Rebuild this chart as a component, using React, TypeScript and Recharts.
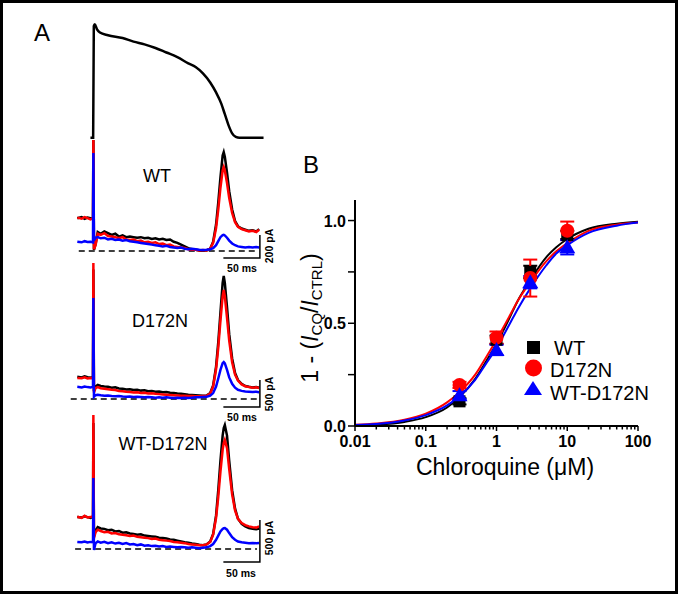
import React from "react";
import {
  ComposedChart,
  ErrorBar,
  Legend,
  Line,
  LineChart,
  ReferenceLine,
  Scatter,
  XAxis,
  YAxis,
} from "recharts";

const FONT = "Arial, 'Liberation Sans', Helvetica, sans-serif";

// ---------- Panel A: action potential (mV) ----------
const apTime = [-4, -0.3, 0.6, 2, 5, 9, 20, 40, 55, 70, 85, 100, 115, 130, 140, 150, 160, 168, 175, 180, 185, 190, 195, 200, 233];
const apVoltage = [-85, -85, 38, 40, 34.5, 31, 28, 25, 21, 18, 14, 9, 4, -3, -7, -14, -24, -35, -47, -59, -71, -80, -84, -85, -85];

// ---------- Panel A: current traces (pA), stimulus at t = 0 ms ----------
const traceTime = [
  -22, -16, -12, -8, -4, -0.5, 0, 0.8, 3, 6,
  10, 15, 20, 25, 30, 35, 40, 45, 50, 55, 60, 65, 70, 75, 80, 85, 90, 95, 100, 105,
  110, 115, 120, 125, 130, 135, 140, 145, 150, 155,
  160, 164, 168, 171, 174, 177, 178.5, 180, 183, 186,
  190, 194, 198, 203, 208, 213, 218, 223, 227,
];

const wtBlack = [
  285, 295, 280, 290, 285, 280, 965, 10, 60, 165,
  150, 170, 155, 140, 150, 125, 135, 120, 125, 120, 115, 120, 110, 115, 105, 110, 100, 105, 95, 100,
  80, 70, 55, 40, 25, 15, 10, 5, 5, 5,
  20, 80, 230, 420, 640, 830, 860, 820, 680, 520,
  360, 260, 215, 195, 185, 175, 180, 170, 190,
];
const wtRed = [
  290, 280, 295, 285, 275, 285, 965, 15, 50, 150,
  140, 155, 130, 125, 120, 110, 120, 100, 95, 100, 85, 90, 75, 80, 70, 75, 60, 65, 50, 55,
  40, 35, 30, 25, 15, 10, 10, 5, 8, 5,
  20, 70, 200, 360, 550, 700, 730, 700, 590, 460,
  330, 250, 210, 190, 180, 170, 175, 165, 185,
];
const wtBlue = [
  80, 75, 85, 78, 80, 75, 852, 95, 115, 120,
  110, 115, 100, 105, 95, 100, 90, 95, 85, 80, 75, 70, 65, 60, 55, 50, 45, 40, 45, 35,
  30, 25, 30, 20, 15, 20, 15, 10, 8, 10,
  15, 25, 50, 85, 120, 138, 140, 135, 115, 90,
  65, 50, 40, 35, 30, 35, 30, 35, 30,
];

const d172nBlack = [
  410, 400, 420, 405, 395, 410, 2400, 150, 230, 260,
  240, 230, 225, 210, 215, 195, 190, 175, 180, 165, 170, 155, 160, 145, 150, 135, 140, 125, 130, 115,
  110, 100, 95, 90, 80, 75, 70, 65, 60, 65,
  110, 250, 600, 1050, 1600, 2150, 2278, 2150, 1700, 1200,
  750, 480, 350, 280, 240, 225, 215, 220, 210,
];
const d172nRed = [
  390, 385, 400, 380, 390, 385, 2519, 120, 200, 220,
  200, 190, 180, 170, 165, 150, 145, 135, 130, 120, 125, 110, 115, 100, 105, 95, 90, 85, 80, 75,
  70, 65, 60, 60, 55, 55, 50, 50, 55, 60,
  100, 230, 550, 950, 1450, 1900, 2018, 1900, 1500, 1080,
  680, 450, 340, 270, 235, 220, 210, 215, 205,
];
const d172nBlue = [
  225, 215, 230, 220, 215, 225, 1870, 40, 70, 80,
  70, 60, 65, 55, 50, 55, 45, 40, 45, 35, 40, 35, 30, 35, 30, 25, 30, 25, 30, 25,
  20, 25, 20, 25, 20, 25, 30, 30, 35, 40,
  60, 110, 230, 380, 540, 665, 685, 660, 540, 400,
  280, 210, 170, 150, 140, 135, 130, 135, 125,
];

const hetBlack = [
  380, 375, 390, 380, 370, 385, 1500, 150, 220, 260,
  245, 240, 225, 230, 210, 215, 195, 200, 185, 180, 170, 175, 160, 155, 150, 145, 135, 130, 125, 115,
  110, 100, 90, 80, 75, 65, 60, 50, 45, 55,
  90, 180, 400, 700, 1050, 1350, 1440, 1476, 1350, 1050,
  700, 480, 360, 300, 270, 250, 240, 235, 245,
];
const hetRed = [
  385, 370, 395, 375, 380, 390, 1595, 130, 200, 230,
  215, 200, 205, 185, 190, 175, 170, 165, 155, 160, 145, 140, 135, 130, 120, 125, 110, 105, 100, 95,
  85, 80, 75, 70, 60, 55, 50, 45, 45, 55,
  85, 170, 370, 620, 920, 1180, 1260, 1298, 1200, 950,
  650, 460, 360, 310, 285, 270, 260, 255, 270,
];
const hetBlue = [
  85, 80, 90, 78, 85, 82, 845, -12, 70, 90,
  75, 85, 70, 80, 65, 75, 60, 70, 55, 60, 45, 55, 40, 45, 35, 40, 30, 35, 25, 30,
  25, 20, 25, 20, 15, 20, 15, 10, 15, 20,
  35, 60, 110, 160, 210, 240, 248, 250, 230, 190,
  140, 110, 90, 80, 75, 70, 72, 68, 72,
];

// ---------- Panel B: dose-response ----------
const doseUM = [0.3, 1, 3, 10];
const wtMean = [0.12, 0.42, 0.75, 0.93];
const wtSem = [0.015, 0.02, 0.03, 0.02];
const d172nMean = [0.2, 0.43, 0.72, 0.95];
const d172nSem = [0.015, 0.03, 0.09, 0.045];
const hetMean = [0.15, 0.37, 0.7, 0.87];
const hetSem = [0.02, 0.025, 0.03, 0.035];

const fitDose = [0.01, 0.02, 0.05, 0.1, 0.2, 0.3, 0.5, 0.7, 1, 1.5, 2, 3, 5, 7, 10, 20, 50, 100];
const wtFit = [0.003, 0.007, 0.02, 0.043, 0.09, 0.14, 0.23, 0.31, 0.4, 0.52, 0.61, 0.71, 0.82, 0.87, 0.91, 0.96, 0.985, 0.994];
const d172nFit = [0.006, 0.012, 0.03, 0.06, 0.115, 0.165, 0.25, 0.33, 0.42, 0.53, 0.61, 0.7, 0.8, 0.85, 0.89, 0.95, 0.98, 0.99];
const hetFit = [0.005, 0.01, 0.027, 0.053, 0.1, 0.145, 0.225, 0.3, 0.38, 0.49, 0.57, 0.67, 0.78, 0.84, 0.88, 0.94, 0.975, 0.99];

const xMajorTicks = [0.01, 0.1, 1, 10, 100];
const xMinorTicks = [
  0.02, 0.03, 0.04, 0.05, 0.06, 0.07, 0.08, 0.09,
  0.2, 0.3, 0.4, 0.5, 0.6, 0.7, 0.8, 0.9,
  2, 3, 4, 5, 6, 7, 8, 9,
  20, 30, 40, 50, 60, 70, 80, 90,
];
const yTicks = [0, 0.25, 0.5, 0.75, 1];
const yLabelled = [0, 0.5, 1];

const TIME_DOMAIN: [number, number] = [-32, 235];
const BLACK = "#000000";
const RED = "#ff0000";
const BLUE = "#0000ff";

function TracePanel(props: {
  top: number;
  height: number;
  domain: [number, number];
  black: number[];
  red: number[];
  blue: number[];
  barBase: number;
  barAmp: number;
  zeroFrom: number;
}) {
  const { top, height, domain, black, red, blue, barBase, barAmp, zeroFrom } = props;
  const data = traceTime.map((t, i) => ({ t, black: black[i], red: red[i], blue: blue[i] }));
  const bar = [
    { t: 178, v: barBase },
    { t: 228, v: barBase },
    { t: 228, v: barBase + barAmp },
  ];
  return (
    <div style={{ position: "absolute", left: 70, top }}>
      <LineChart width={195} height={height} data={data} margin={{ top: 0, right: 0, bottom: 0, left: 0 }}>
        <XAxis type="number" dataKey="t" domain={TIME_DOMAIN} hide allowDataOverflow />
        <YAxis type="number" domain={domain} hide allowDataOverflow />
        <ReferenceLine
          segment={[{ x: zeroFrom, y: 0 }, { x: 224, y: 0 }]}
          stroke={BLACK}
          strokeWidth={1.5}
          strokeDasharray="6 4"
        />
        <Line type="linear" dataKey="black" stroke={BLACK} strokeWidth={2.5} dot={false} isAnimationActive={false} />
        <Line type="linear" dataKey="red" stroke={RED} strokeWidth={2.5} dot={false} isAnimationActive={false} />
        <Line type="linear" dataKey="blue" stroke={BLUE} strokeWidth={2.5} dot={false} isAnimationActive={false} />
        <Line data={bar} type="linear" dataKey="v" stroke={BLACK} strokeWidth={1.5} dot={false} isAnimationActive={false} />
      </LineChart>
    </div>
  );
}

function LogTick(p: any) {
  const { x, y, payload } = p;
  const v = payload.value as number;
  const major = xMajorTicks.includes(v);
  return (
    <g>
      <line x1={x} x2={x} y1={y} y2={y + (major ? 5 : 3.5)} stroke={BLACK} strokeWidth={1.5} />
      {major && (
        <text x={x} y={y + 21} textAnchor="middle" fontFamily={FONT} fontWeight="bold" fontSize={16} fill={BLACK}>
          {String(v)}
        </text>
      )}
    </g>
  );
}

function YTick(p: any) {
  const { x, y, payload } = p;
  const v = payload.value as number;
  return (
    <g>
      <line x1={x - 7} x2={x} y1={y} y2={y} stroke={BLACK} strokeWidth={1.5} />
      {yLabelled.includes(v) && (
        <text x={x - 9} y={y + 6} textAnchor="end" fontFamily={FONT} fontWeight="bold" fontSize={16} fill={BLACK}>
          {v.toFixed(1)}
        </text>
      )}
    </g>
  );
}

const square = (p: any) => <rect x={p.cx - 6} y={p.cy - 6} width={12} height={12} fill={BLACK} />;
const circle = (p: any) => <circle cx={p.cx} cy={p.cy} r={7} fill={RED} />;
const triangle = (p: any) => (
  <polygon points={`${p.cx},${p.cy - 8} ${p.cx - 8},${p.cy + 6} ${p.cx + 8},${p.cy + 6}`} fill={BLUE} />
);

function DoseLegend() {
  return (
    <svg width={140} height={70} style={{ overflow: "visible" }}>
      <rect x={4} y={4} width={13} height={13} fill={BLACK} />
      <circle cx={10.5} cy={31} r={8.5} fill={RED} />
      <polygon points="10,44 1,58 19,58" fill={BLUE} />
      <g fontFamily={FONT} fontSize={20} fill={BLACK}>
        <text x={31} y={18}>WT</text>
        <text x={27} y={40}>D172N</text>
        <text x={27} y={63}>WT-D172N</text>
      </g>
    </svg>
  );
}

export default function App() {
  const apData = apTime.map((t, i) => ({ t, v: apVoltage[i] }));
  const pts = (mean: number[], sem: number[]) => doseUM.map((x, i) => ({ x, y: mean[i], e: sem[i] }));
  const fit = (ys: number[]) => fitDose.map((x, i) => ({ x, y: ys[i] }));

  return (
    <div style={{ position: "absolute", left: 0, top: 0, width: 678, height: 594, background: "#fff", fontFamily: FONT }}>
      {/* action potential */}
      <div style={{ position: "absolute", left: 70, top: 18 }}>
        <LineChart width={195} height={128} data={apData} margin={{ top: 0, right: 0, bottom: 0, left: 0 }}>
          <XAxis type="number" dataKey="t" domain={TIME_DOMAIN} hide allowDataOverflow />
          <YAxis type="number" domain={[-94, 47]} hide allowDataOverflow />
          <Line type="monotone" dataKey="v" stroke={BLACK} strokeWidth={2.5} dot={false} isAnimationActive={false} />
        </LineChart>
      </div>

      <TracePanel top={140} height={122} domain={[-96, 965]} black={wtBlack} red={wtRed} blue={wtBlue} barBase={-61} barAmp={200} zeroFrom={-20} />
      <TracePanel top={262} height={150} domain={[-241, 2537]} black={d172nBlack} red={d172nRed} blue={d172nBlue} barBase={-148} barAmp={500} zeroFrom={-31} />
      <TracePanel top={413} height={152} domain={[-190, 1619]} black={hetBlack} red={hetRed} blue={hetBlue} barBase={-155} barAmp={500} zeroFrom={-25} />

      {/* panel B */}
      <div style={{ position: "absolute", left: 290, top: 190 }}>
        <ComposedChart width={370} height={270} margin={{ top: 10, right: 22, bottom: 4, left: 15 }}>
          <XAxis
            type="number"
            dataKey="x"
            scale="log"
            domain={[0.01, 100]}
            allowDataOverflow
            ticks={[...xMajorTicks, ...xMinorTicks]}
            interval={0}
            tickSize={0}
            tickMargin={0}
            tickLine={false}
            tick={LogTick}
            axisLine={{ stroke: BLACK, strokeWidth: 2 }}
            height={30}
          />
          <YAxis
            type="number"
            dataKey="y"
            domain={[0, 1.1]}
            allowDataOverflow
            ticks={yTicks}
            interval={0}
            tickSize={0}
            tickMargin={0}
            tickLine={false}
            tick={YTick}
            axisLine={{ stroke: BLACK, strokeWidth: 2 }}
            width={50}
          />
          <Line data={fit(wtFit)} type="monotone" dataKey="y" stroke={BLACK} strokeWidth={2} dot={false} isAnimationActive={false} />
          <Line data={fit(d172nFit)} type="monotone" dataKey="y" stroke={RED} strokeWidth={2} dot={false} isAnimationActive={false} />
          <Line data={fit(hetFit)} type="monotone" dataKey="y" stroke={BLUE} strokeWidth={2} dot={false} isAnimationActive={false} />
          <Scatter data={pts(wtMean, wtSem)} dataKey="y" fill={BLACK} shape={square} isAnimationActive={false}>
            <ErrorBar dataKey="e" direction="y" width={7} stroke={BLACK} strokeWidth={2} />
          </Scatter>
          <Scatter data={pts(d172nMean, d172nSem)} dataKey="y" fill={RED} shape={circle} isAnimationActive={false}>
            <ErrorBar dataKey="e" direction="y" width={7} stroke={RED} strokeWidth={2} />
          </Scatter>
          <Scatter data={pts(hetMean, hetSem)} dataKey="y" fill={BLUE} shape={triangle} isAnimationActive={false}>
            <ErrorBar dataKey="e" direction="y" width={7} stroke={BLUE} strokeWidth={2} />
          </Scatter>
          <Legend
            layout="vertical"
            align="center"
            verticalAlign="middle"
            content={() => <DoseLegend />}
            wrapperStyle={{ left: 233, top: 147, width: 140, height: 70 }}
          />
        </ComposedChart>
      </div>

      {/* text overlay */}
      <svg width={678} height={594} style={{ position: "absolute", left: 0, top: 0, pointerEvents: "none" }}>
        <g fontFamily={FONT} fill={BLACK}>
          <text x={34} y={41} fontSize={24}>A</text>
          <text x={303} y={173} fontSize={24}>B</text>

          <text x={157} y={182} fontSize={18} textAnchor="middle">WT</text>
          <text x={160} y={327} fontSize={18} textAnchor="middle">D172N</text>
          <text x={163} y={450} fontSize={18} textAnchor="middle">WT-D172N</text>

          <g fontSize={10.5} fontWeight="bold">
            <text x={242} y={272} textAnchor="middle">50 ms</text>
            <text x={242} y={421} textAnchor="middle">50 ms</text>
            <text x={241} y={577} textAnchor="middle">50 ms</text>
            <text transform="translate(273,246) rotate(-90)" textAnchor="middle">200 pA</text>
            <text transform="translate(273,394) rotate(-90)" textAnchor="middle">500 pA</text>
            <text transform="translate(273,538) rotate(-90)" textAnchor="middle">500 pA</text>
          </g>

          <text x={505} y={475} fontSize={23} textAnchor="middle">Chloroquine (μM)</text>
          <text transform="translate(318,318) rotate(-90)" fontSize={23} textAnchor="middle">
            1 - (<tspan fontStyle="italic">I</tspan>
            <tspan fontSize={15} dy={4}>CQ</tspan>
            <tspan dy={-4}>/</tspan>
            <tspan fontStyle="italic">I</tspan>
            <tspan fontSize={15} dy={4}>CTRL</tspan>
            <tspan dy={-4}>)</tspan>
          </text>
        </g>
      </svg>

      <div style={{ position: "absolute", left: 0, top: 0, width: 678, height: 594, border: "3px solid #000", boxSizing: "border-box", pointerEvents: "none" }} />
    </div>
  );
}
